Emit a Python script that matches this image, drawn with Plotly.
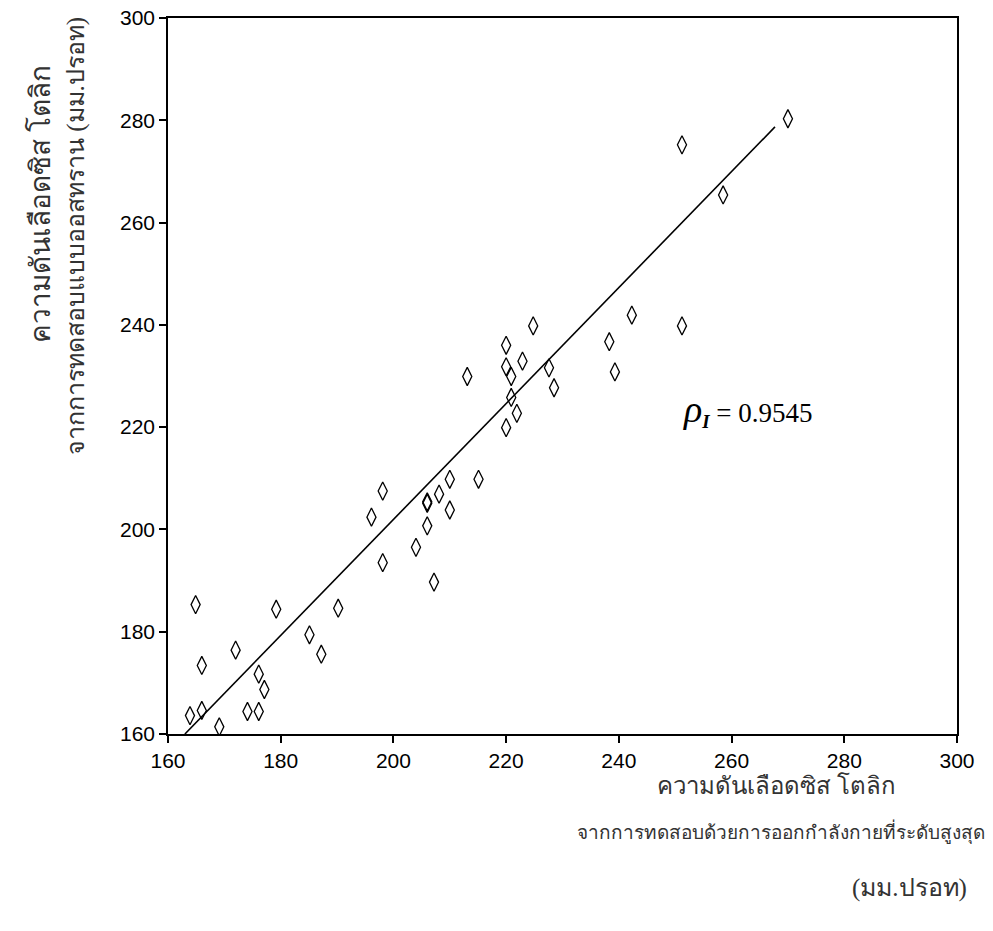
import plotly.graph_objects as go

x_exercise = [270.0, 251.2, 258.5, 224.8, 242.3, 251.2, 238.3, 220.0, 222.9, 220.0,
              227.6, 239.3, 213.1, 220.9, 228.5, 220.9, 221.9, 220.0, 210.0, 215.1,
              198.1, 208.1, 206.0, 206.0, 210.0, 196.1, 206.0, 204.0, 198.1, 207.2,
              164.9, 179.2, 190.2, 185.1, 172.0, 187.2, 166.0, 176.1, 177.1, 163.9,
              166.0, 174.1, 176.1, 169.1]
y_astrand = [280.3, 275.2, 265.4, 239.8, 241.9, 239.8, 236.7, 236.0, 232.9, 231.8,
             231.6, 230.8, 229.9, 229.9, 227.7, 225.8, 222.7, 219.9, 209.8, 209.8,
             207.5, 206.9, 205.1, 205.4, 203.8, 202.4, 200.7, 196.5, 193.5, 189.7,
             185.3, 184.4, 184.6, 179.4, 176.4, 175.6, 173.4, 171.7, 168.7, 163.6,
             164.6, 164.4, 164.4, 161.4]

# Regression line end points
fit_x = [163.0, 267.7]
fit_y = [160.0, 278.7]

tick_vals = [160, 180, 200, 220, 240, 260, 280, 300]
tick_text = ["160", "180", "200", "220", "240", "260", "280", "300"]

rho_label = "= 0.9545"
y_title_1 = "ความดันเลือดซิส โตลิก"
y_title_2 = "จากการทดสอบแบบออสทราน (มม.ปรอท)"
x_title_1 = "ความดันเลือดซิส โตลิก"
x_title_2 = "จากการทดสอบด้วยการออกกำลังกายที่ระดับสูงสุด"
x_title_3 = "(มม.ปรอท)"

# page body has an 8px margin; figure coordinates = page coordinates - 8
OFF = 8
W, H = 993 - 2 * OFF, 931 - 2 * OFF
L, T = 168 - OFF, 18 - OFF
R = W - (957 - OFF)
B = H - (734 - OFF)
pw, ph = W - L - R, H - T - B


def px(xp):
    return (xp - OFF - L) / pw


def py(yp):
    return 1 - (yp - OFF - T) / ph


fig = go.Figure()
fig.add_trace(go.Scatter(x=fit_x, y=fit_y, mode="lines",
                         line=dict(color="black", width=1.6), showlegend=False,
                         hoverinfo="skip"))
fig.add_trace(go.Scatter(x=x_exercise, y=y_astrand, mode="markers",
                         marker=dict(symbol="diamond-tall-open", size=13,
                                     color="black", line=dict(width=1.3, color="black")),
                         showlegend=False))

thai = "Liberation Serif, Noto Sans, serif"

annots = [
    dict(x=251.0, y=223.4, xref="x", yref="y", xanchor="left", yanchor="middle",
         text="<span style='font-size:38px'><i>ρ</i></span><sub><i><b>I</b></i></sub> " + rho_label,
         showarrow=False, font=dict(family="Liberation Serif, serif", size=27, color="black")),
    dict(x=px(40), y=py(204), xref="paper", yref="paper", textangle=-90,
         xanchor="center", yanchor="middle", text=y_title_1, showarrow=False,
         font=dict(family=thai, size=28, color="#333")),
    dict(x=px(76), y=py(236), xref="paper", yref="paper", textangle=-90,
         xanchor="center", yanchor="middle", text=y_title_2, showarrow=False,
         font=dict(family=thai, size=25, color="#333")),
    dict(x=px(776), y=py(785), xref="paper", yref="paper", xanchor="center", yanchor="middle",
         text=x_title_1, showarrow=False, font=dict(family=thai, size=24, color="#333")),
    dict(x=px(781), y=py(832), xref="paper", yref="paper", xanchor="center", yanchor="middle",
         text=x_title_2, showarrow=False, font=dict(family=thai, size=19, color="#333")),
    dict(x=px(909), y=py(888), xref="paper", yref="paper", xanchor="center", yanchor="middle",
         text=x_title_3, showarrow=False, font=dict(family=thai, size=25, color="#333")),
]

axis_common = dict(
    range=[160, 300], tickvals=tick_vals, ticktext=tick_text,
    showgrid=False, zeroline=False, showline=True, linecolor="black", linewidth=1.5,
    mirror=True, ticks="outside", ticklen=7, tickwidth=1.5, tickcolor="black",
    automargin=False, ticklabeloverflow="allow",
    tickfont=dict(family="Liberation Sans Narrow, Liberation Sans, Arial, sans-serif",
                  size=21, color="black"),
)

fig.update_layout(
    width=W, height=H,
    margin=dict(l=L, r=R, t=T, b=B),
    paper_bgcolor="white", plot_bgcolor="white",
    xaxis=dict(**axis_common),
    yaxis=dict(**axis_common),
    annotations=annots,
)

fig.write_html("out.html")
